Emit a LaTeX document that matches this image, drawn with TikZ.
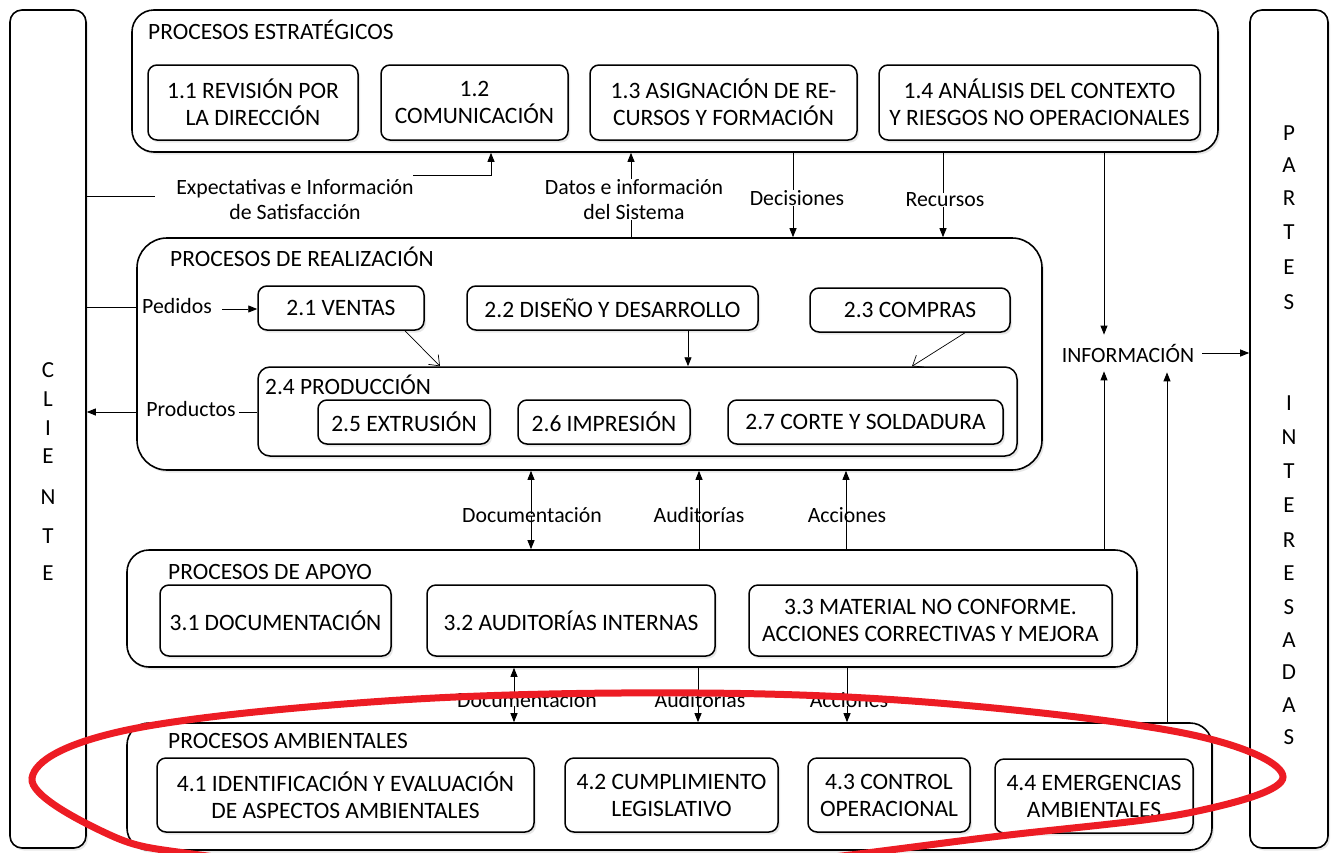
\documentclass[tikz,border=0pt]{standalone}
\usepackage{fontspec}
\setmainfont{Carlito}
\usetikzlibrary{arrows.meta,shadows}
\definecolor{ringred}{HTML}{ED1C24}
\begin{document}
\begin{tikzpicture}[x=1pt,y=-1pt,
  shd/.style={drop shadow={shadow xshift=2pt,shadow yshift=-2.5pt,fill=black!18}},
  column/.style={draw,line width=1.6pt,rounded corners=12pt,fill=white,shd,inner sep=0pt},
  outer/.style={draw,line width=1.6pt,rounded corners=22pt,fill=white,shd,inner sep=0pt},
  box/.style={draw,line width=1.5pt,rounded corners=9pt,fill=white,shd,inner sep=0pt,
    align=center,font=\fontsize{23.5}{27}\selectfont},
  title/.style={anchor=west,inner sep=0pt,font=\fontsize{23.4}{27}\selectfont},
  lbl/.style={inner sep=0pt,align=center,font=\fontsize{21.8}{25}\selectfont},
  letter/.style={inner sep=0pt,font=\fontsize{23}{27}\selectfont},
  conn/.style={line width=0.9pt},
  arr/.style={line width=0.9pt,-{Triangle[length=9pt,width=7pt]}},
  oarr/.style={line width=0.7pt,-{Straight Barb[length=9pt,width=14pt]}}
]
\useasboundingbox (0,0) rectangle (1339,852);

% side columns
\node[column,minimum width=76pt,minimum height=838pt] (cli) at (48,429) {};
\node[column,minimum width=78pt,minimum height=838pt] (par) at (1289,429) {};
\foreach \l/\y [count=\i] in {C/370,L/399,I/428,E/456,N/497,T/536,E/573}
  \node[letter] (cl\i) at (48,\y) {\l};
\foreach \l/\y [count=\i] in {P/133,A/165,R/198,T/232,E/267,S/302,I/403,N/437,T/471,E/505,R/540,E/573,S/607,A/640,D/672,A/705,S/737}
  \node[letter] (pi\i) at (1289,\y) {\l};

% estrategicos
\node[outer,minimum width=1086pt,minimum height=142pt] (est) at (675,81) {};
\node[title] (estt) at (148,30) {PROCESOS ESTRATÉGICOS};
\node[box,minimum width=210pt,minimum height=75pt] (b11) at (253,102.5) {1.1 REVISIÓN POR\\LA DIRECCIÓN};
\node[box,minimum width=187pt,minimum height=75pt] (b12) at (474.5,102.5) {1.2\\COMUNICACIÓN};
\node[box,minimum width=267pt,minimum height=75pt] (b13) at (723.5,102.5) {1.3 ASIGNACIÓN DE RE-\\CURSOS Y FORMACIÓN};
\node[box,minimum width=321pt,minimum height=75pt] (b14) at (1039.5,102.5) {1.4 ANÁLISIS DEL CONTEXTO\\Y RIESGOS NO OPERACIONALES};

% realizacion
\node[outer,rounded corners=30pt,minimum width=905pt,minimum height=232pt] (rea) at (589.5,354) {};
\node[title] (reat) at (170,257) {PROCESOS DE REALIZACIÓN};
\node[box,minimum width=166pt,minimum height=44pt] (b21) at (341,308) {2.1 VENTAS};
\node[box,minimum width=291pt,minimum height=44pt] (b22) at (612.5,308) {2.2 DISEÑO Y DESARROLLO};
\node[box,minimum width=200pt,minimum height=44pt] (b23) at (910,310) {2.3 COMPRAS};
\node[box,rounded corners=12pt,minimum width=759pt,minimum height=89pt] (b24) at (637.5,411.5) {};
\node[title] (b24t) at (265,385) {2.4 PRODUCCIÓN};
\node[box,minimum width=172pt,minimum height=44pt] (b25) at (404,422) {2.5 EXTRUSIÓN};
\node[box,minimum width=172pt,minimum height=44pt] (b26) at (604,422) {2.6 IMPRESIÓN};
\node[box,minimum width=275pt,minimum height=44pt] (b27) at (865.5,422) {2.7 CORTE Y SOLDADURA};

% apoyo
\node[outer,minimum width=1010pt,minimum height=117pt] (apo) at (632,608.5) {};
\node[title] (apot) at (168,572) {PROCESOS DE APOYO};
\node[box,minimum width=231pt,minimum height=71pt] (b31) at (275.5,620.5) {3.1 DOCUMENTACIÓN};
\node[box,minimum width=288pt,minimum height=71pt] (b32) at (571,620.5) {3.2 AUDITORÍAS INTERNAS};
\node[box,minimum width=363pt,minimum height=71pt] (b33) at (930.5,620.5) {3.3 MATERIAL NO CONFORME.\\ACCIONES CORRECTIVAS Y MEJORA};

% ambientales
\node[outer,minimum width=1085pt,minimum height=127pt] (amb) at (669.5,786.5) {};
\node[title] (ambt) at (168,741) {PROCESOS AMBIENTALES};
\node[box,minimum width=377pt,minimum height=74pt] (b41) at (345.5,795) {4.1 IDENTIFICACIÓN Y EVALUACIÓN\\DE ASPECTOS AMBIENTALES};
\node[box,minimum width=213pt,minimum height=74pt] (b42) at (671.5,795) {4.2 CUMPLIMIENTO\\LEGISLATIVO};
\node[box,minimum width=162pt,minimum height=74pt] (b43) at (889,795) {4.3 CONTROL\\OPERACIONAL};
\node[box,minimum width=198pt,minimum height=74pt] (b44) at (1094,796) {4.4 EMERGENCIAS\\AMBIENTALES};

% labels
\node[lbl] (expt) at (295,199.5) {Expectativas e Información\\de Satisfacción};
\node[lbl] (dat) at (634,199.5) {Datos e información\\del Sistema};
\node[lbl] (dec) at (797,198) {Decisiones};
\node[lbl] (rec) at (945,200) {Recursos};
\node[lbl] (inf) at (1128,353) {INFORMACIÓN};
\node[lbl] (ped) at (177,306) {Pedidos};
\node[lbl] (pro) at (191,409) {Productos};
\node[lbl] (doc) at (532,515) {Documentación};
\node[lbl] (aud) at (699,515) {Auditorías};
\node[lbl] (acc) at (847,515) {Acciones};
\node[lbl] (doc2) at (527,700) {Documentación};
\node[lbl] (aud2) at (700,700) {Auditorías};
\node[lbl] (acc2) at (849,700) {Acciones};

% connectors: cliente / estrategicos
\coordinate (e1) at (155,196);
\coordinate (e2) at (413,175);
\draw[conn] (cli.east |- e1) -- (e1);
\draw[arr] (e2) -- (e2 -| 491,0) -- (est.south -| 491,0);
\draw[arr] (dat.north -| 631,0) -- (est.south -| 631,0);
\draw[conn] (dat.south -| 631,0) -- (rea.north -| 631,0);
\draw[conn] (est.south -| 793,0) -- (dec.north -| 793,0);
\draw[arr] (dec.south -| 793,0) -- (rea.north -| 793,0);
\draw[conn] (est.south -| 943,0) -- (rec.north -| 943,0);
\draw[arr] (rec.south -| 943,0) -- (rea.north -| 943,0);
\draw[arr] (est.south -| 1104,0) -- ([yshift=9pt]inf.north -| 1104,0);
\draw[arr] ([xshift=8pt]inf.east) -- (par.west |- inf.east);
\draw[arr] (apo.north -| 1104,0) -- ([yshift=-9pt]inf.south -| 1104,0);
\draw[arr] (amb.north -| 1167,0) -- ([yshift=-10pt]inf.south -| 1167,0);

% pedidos / productos
\draw[conn] (cli.east |- 0,307) -- (rea.west |- 0,307);
\draw[arr] ([xshift=10pt]ped.east |- 0,309) -- (b21.west |- 0,309);
\draw[arr] (rea.west |- 0,412) -- (cli.east |- 0,412);
\draw[conn] ([xshift=3pt]pro.east |- 0,412) -- (b24.west |- 0,412);

% inside realizacion
\draw[oarr] (b21.south -| 405,0) -- (b24.north -| 440,0);
\draw[arr] (b22.south -| 688,0) -- (b24.north -| 688,0);
\draw[oarr] (b23.south -| 965,0) -- (b24.north -| 912,0);

% realizacion / apoyo
\draw[arr] ([yshift=-7pt]doc.north -| 531,0) -- (rea.south -| 531,0);
\draw[arr] ([yshift=7pt]doc.south -| 531,0) -- (apo.north -| 531,0);
\draw[arr] ([yshift=-7pt]aud.north -| 699,0) -- (rea.south -| 699,0);
\draw[conn] ([yshift=7pt]aud.south -| 699,0) -- (apo.north -| 699,0);
\draw[arr] ([yshift=-7pt]acc.north -| 846,0) -- (rea.south -| 846,0);
\draw[conn] ([yshift=7pt]acc.south -| 846,0) -- (apo.north -| 846,0);

% apoyo / ambientales
\draw[arr] ([yshift=-2pt]doc2.north -| 514,0) -- (apo.south -| 514,0);
\draw[arr] ([yshift=2pt]doc2.south -| 514,0) -- (amb.north -| 514,0);
\draw[conn] (apo.south -| 698,0) -- ([yshift=-2pt]aud2.north -| 698,0);
\draw[arr] ([yshift=2pt]aud2.south -| 698,0) -- (amb.north -| 698,0);
\draw[conn] (apo.south -| 847,0) -- ([yshift=-2pt]acc2.north -| 847,0);
\draw[arr] ([yshift=2pt]acc2.south -| 847,0) -- (amb.north -| 847,0);

% red ring
\draw[ringred,line width=7pt] plot[smooth cycle,tension=0.6] coordinates {
  (32,778) (127,730) (400,700) (700,693) (950,704) (1193,735) (1283,777)
  (1193,812) (1000,836) (700,870) (400,875) (200,855) (110,835)};
\end{tikzpicture}
\end{document}
